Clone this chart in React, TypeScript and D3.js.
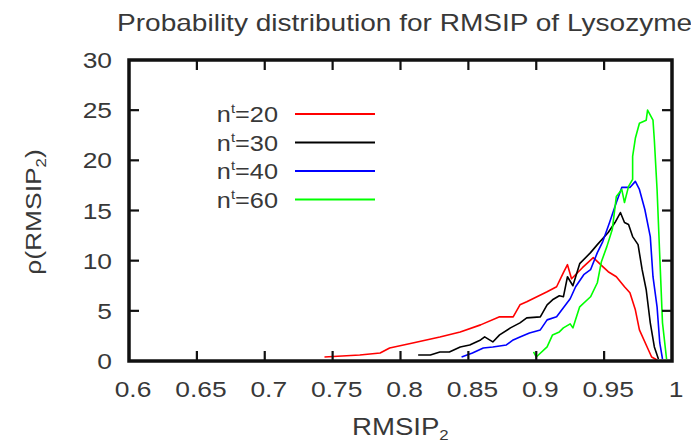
import React from "react";
import * as d3 from "d3";

// RMSIP values (x) and probability densities (y) for each subspace size
const rmsip20 = [0.744, 0.770, 0.785, 0.792, 0.809, 0.829, 0.844, 0.859, 0.873, 0.883, 0.888, 0.893, 0.908, 0.915, 0.920, 0.923, 0.926, 0.934, 0.942, 0.949, 0.953, 0.959, 0.965, 0.969, 0.973, 0.976, 0.982, 0.985, 0.989];
const rho20 = [0.4, 0.6, 0.8, 1.3, 1.8, 2.4, 2.9, 3.6, 4.4, 4.4, 5.6, 5.9, 6.9, 7.4, 8.8, 9.6, 8.2, 9.3, 10.3, 9.4, 8.9, 8.4, 7.4, 6.8, 5.1, 3.1, 1.3, 0.4, 0.1];

const rmsip30 = [0.813, 0.822, 0.829, 0.836, 0.844, 0.851, 0.859, 0.862, 0.868, 0.873, 0.881, 0.888, 0.893, 0.903, 0.908, 0.912, 0.917, 0.920, 0.923, 0.927, 0.932, 0.940, 0.945, 0.953, 0.958, 0.962, 0.965, 0.968, 0.971, 0.975, 0.978, 0.981, 0.984, 0.987, 0.990];
const rho30 = [0.6, 0.6, 0.9, 0.9, 1.4, 1.6, 2.1, 2.4, 1.9, 2.6, 3.3, 3.8, 4.3, 4.4, 5.6, 6.1, 6.5, 6.4, 8.4, 7.5, 9.7, 10.8, 11.6, 12.8, 13.8, 14.8, 13.8, 13.6, 12.4, 11.6, 9.1, 7.1, 3.8, 1.4, 0.2];

const rmsip40 = [0.845, 0.853, 0.861, 0.868, 0.878, 0.883, 0.888, 0.895, 0.903, 0.908, 0.915, 0.920, 0.925, 0.929, 0.935, 0.940, 0.945, 0.949, 0.954, 0.959, 0.963, 0.969, 0.973, 0.976, 0.980, 0.984, 0.986, 0.989, 0.991, 0.993];
const rho40 = [0.4, 0.8, 1.3, 1.4, 1.6, 2.1, 2.4, 2.8, 3.1, 4.1, 4.4, 5.3, 6.2, 7.4, 8.6, 9.1, 10.8, 11.9, 13.8, 15.8, 17.3, 17.3, 17.9, 17.1, 15.1, 12.4, 8.4, 5.4, 1.8, 0.2];

const rmsip60 = [0.898, 0.900, 0.908, 0.912, 0.917, 0.920, 0.925, 0.927, 0.932, 0.940, 0.945, 0.948, 0.952, 0.956, 0.959, 0.963, 0.965, 0.968, 0.971, 0.971, 0.973, 0.976, 0.981, 0.982, 0.986, 0.987, 0.989, 0.991, 0.993, 0.996];
const rho60 = [0.9, 0.4, 1.4, 2.6, 2.9, 3.3, 3.7, 3.3, 5.4, 6.4, 7.8, 9.9, 11.4, 13.1, 16.4, 17.1, 15.8, 17.4, 18.1, 20.4, 22.2, 23.7, 24.0, 25.0, 24.0, 22.0, 17.1, 10.4, 3.8, 0.2];

const seriesLabels = ["20", "30", "40", "60"];
const seriesColors = ["#ff0000", "#000000", "#0000ff", "#00ff00"];
const seriesX = [rmsip20, rmsip30, rmsip40, rmsip60];
const seriesY = [rho20, rho30, rho40, rho60];

const xTicks = [0.6, 0.65, 0.7, 0.75, 0.8, 0.85, 0.9, 0.95, 1];
const xTickLabels = ["0.6", "0.65", "0.7", "0.75", "0.8", "0.85", "0.9", "0.95", "1"];
const yTicks = [0, 5, 10, 15, 20, 25, 30];

const W = 691;
const H = 446;
const left = 129;
const right = 672;
const top = 60;
const bottom = 361;

const FONT = "'Liberation Sans', Arial, Helvetica, sans-serif";
const TEXT = "#383838";
const SX = 1.2; // horizontal widening of the glyphs

function Wide({ x, y, anchor = "start", size = 22, sx = SX, children }: any) {
  return (
    <g transform={`translate(${x},${y}) scale(${sx},1)`}>
      <text x={0} y={0} textAnchor={anchor} fontSize={size} fontFamily={FONT} fill={TEXT}>
        {children}
      </text>
    </g>
  );
}

export default function App() {
  const x = d3.scaleLinear().domain([0.6, 1]).range([left, right]);
  const y = d3.scaleLinear().domain([0, 30]).range([bottom, top]);
  const line = d3
    .line<[number, number]>()
    .x((d) => x(d[0]))
    .y((d) => y(d[1]));

  const tickLen = 10;
  const legendRowY = [114, 142.5, 171, 199.5];

  return (
    <svg width={W} height={H} style={{ position: "absolute", left: 0, top: 0, background: "#fff" }}>
      <rect x={0} y={0} width={W} height={H} fill="#fff" />

      {/* title */}
      <Wide x={117} y={31} size={23} sx={1.22}>
        Probability distribution for RMSIP of Lysozyme
      </Wide>

      {/* curves */}
      {seriesX.map((xs, i) => (
        <path
          key={i}
          d={line(xs.map((v, j) => [v, seriesY[i][j]] as [number, number])) || ""}
          fill="none"
          stroke={seriesColors[i]}
          strokeWidth={1.6}
          strokeLinejoin="round"
        />
      ))}

      {/* ticks, mirrored on opposite sides */}
      {xTicks.slice(1, -1).map((t) => (
        <g key={`xt${t}`} stroke="#111" strokeWidth={2.2}>
          <line x1={x(t)} x2={x(t)} y1={bottom} y2={bottom - tickLen} />
          <line x1={x(t)} x2={x(t)} y1={top} y2={top + tickLen} />
        </g>
      ))}
      {yTicks.slice(1, -1).map((t) => (
        <g key={`yt${t}`} stroke="#111" strokeWidth={2.2}>
          <line x1={left} x2={left + tickLen} y1={y(t)} y2={y(t)} />
          <line x1={right} x2={right - tickLen} y1={y(t)} y2={y(t)} />
        </g>
      ))}

      {/* frame */}
      <rect x={left} y={top} width={right - left} height={bottom - top} fill="none" stroke="#111" strokeWidth={3.5} />

      {/* tick labels */}
      {yTicks.map((t) => (
        <Wide key={`yl${t}`} x={112} y={y(t) + 8} anchor="end">
          {String(t)}
        </Wide>
      ))}
      {xTicks.map((t, i) => (
        <Wide key={`xl${t}`} x={x(t) + 4} y={397} anchor="middle">
          {xTickLabels[i]}
        </Wide>
      ))}

      {/* axis titles */}
      <Wide x={352} y={435} size={23} sx={1.2}>
        RMSIP
        <tspan fontSize={14} dy={5}>2</tspan>
      </Wide>
      <g transform="translate(41,212) rotate(-90)">
        <g transform="scale(1.2,1)">
          <text x={0} y={0} textAnchor="middle" fontSize={22} fontFamily={FONT} fill={TEXT}>
            ρ(RMSIP
            <tspan fontSize={14} dy={5}>2</tspan>
            <tspan dy={-5}>)</tspan>
          </text>
        </g>
      </g>

      {/* legend */}
      {seriesLabels.map((lab, i) => (
        <g key={`lg${lab}`}>
          <Wide x={278} y={legendRowY[i] + 8} anchor="end" sx={1.15}>
            n
            <tspan fontSize={13} dy={-9}>t</tspan>
            <tspan dy={9}>={lab}</tspan>
          </Wide>
          <line x1={295} x2={375} y1={legendRowY[i]} y2={legendRowY[i]} stroke={seriesColors[i]} strokeWidth={2} />
        </g>
      ))}
    </svg>
  );
}
